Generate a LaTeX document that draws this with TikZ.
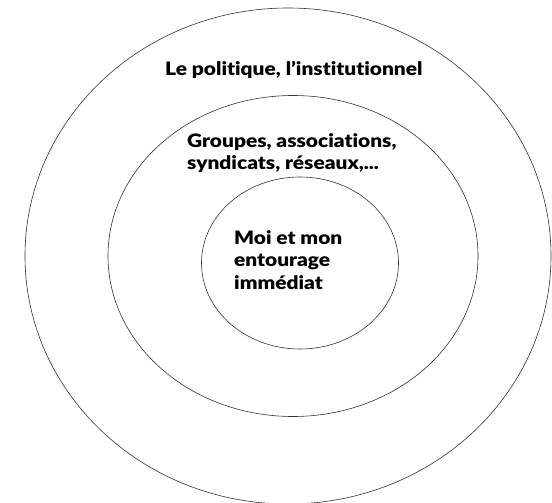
\documentclass[tikz,border=0pt]{standalone}
\usepackage{fontspec}
\setmainfont{Lato}[Ligatures=NoCommon,BoldFont={Lato Black},BoldFeatures={FakeStretch=1.13}]
\usetikzlibrary{positioning,shapes.geometric}

\begin{document}
\begin{tikzpicture}[x=1pt,y=-1pt,
                    ring/.style={ellipse,draw=black!80,line width=0.6pt,inner sep=0pt},
                    label/.style={font=\bfseries\fontsize{18.5}{22.5}\selectfont,align=left,inner sep=0pt,anchor=north west}]
  \useasboundingbox (0,0) rectangle (552,503);

  \node[ring,minimum width=526pt,minimum height=496pt] (outer) at (288,256) {};
  \node[ring,minimum width=370pt,minimum height=321pt] (middle) at (293,256) {};
  \node[ring,minimum width=197pt,minimum height=172pt] (inner) at (300,263) {};

  \node[label] (politique) at (165,61) {Le politique, l’institutionnel};
  \node[label] (groupes) at (187,133) {Groupes, associations,\\syndicats, réseaux,...};
  \node[label] (moi) at (234,230) {Moi et mon\\entourage\\immédiat};
\end{tikzpicture}
\end{document}
